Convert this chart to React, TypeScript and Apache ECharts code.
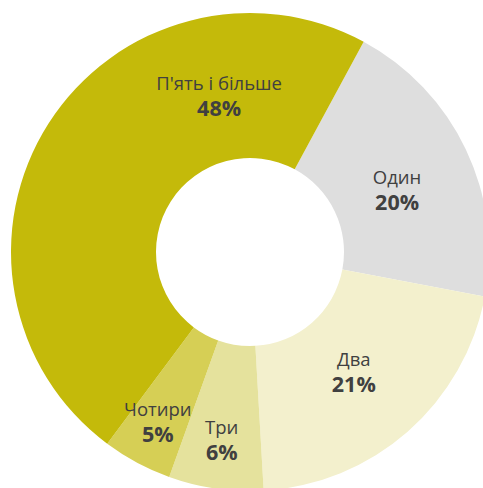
import React, { useEffect, useRef } from "react";
import * as echarts from "echarts";

const categories = ["Один", "Два", "Три", "Чотири", "П'ять і більше"];
const values = [20.1, 21.1, 6.4, 4.7, 47.7];
const colors = ["#dedede", "#f3f0cd", "#e5e29d", "#d6cf55", "#c4ba0a"];
const labelOffsets: number[][] = [[-6, 10], [-8, -8], [-4, 19], [-12, 20], [112, -66]];

export default function App() {
  const ref = useRef<HTMLDivElement>(null);
  useEffect(() => {
    if (!ref.current) return;
    const chart = echarts.init(ref.current, undefined, { renderer: "svg" });
    chart.setOption({
      animation: false,
      series: [
        {
          type: "pie",
          center: [250, 252],
          radius: [94, 239],
          startAngle: 61.6,
          clockwise: true,
          avoidLabelOverlap: false,
          silent: true,
          itemStyle: { borderWidth: 0 },
          label: {
            show: true,
            position: "inside",
            formatter: (p: any) => `{n|${p.name}}\n{p|${Math.round(p.value)}%}`,
            rich: {
              n: { fontFamily: "Open Sans", fontSize: 18.5, color: "#404040", lineHeight: 25 },
              p: { fontFamily: "Open Sans", fontSize: 21.5, fontWeight: "bold", color: "#404040", lineHeight: 25 },
            },
          },
          labelLine: { show: false },
          data: categories.map((c, i) => ({
            name: c,
            value: values[i],
            itemStyle: { color: colors[i] },
            label: { offset: labelOffsets[i] },
          })),
        },
      ],
    });
    return () => chart.dispose();
  }, []);
  return (
    <div
      ref={ref}
      style={{ position: "fixed", left: 0, top: 0, width: 483, height: 488, background: "#fff" }}
    />
  );
}
